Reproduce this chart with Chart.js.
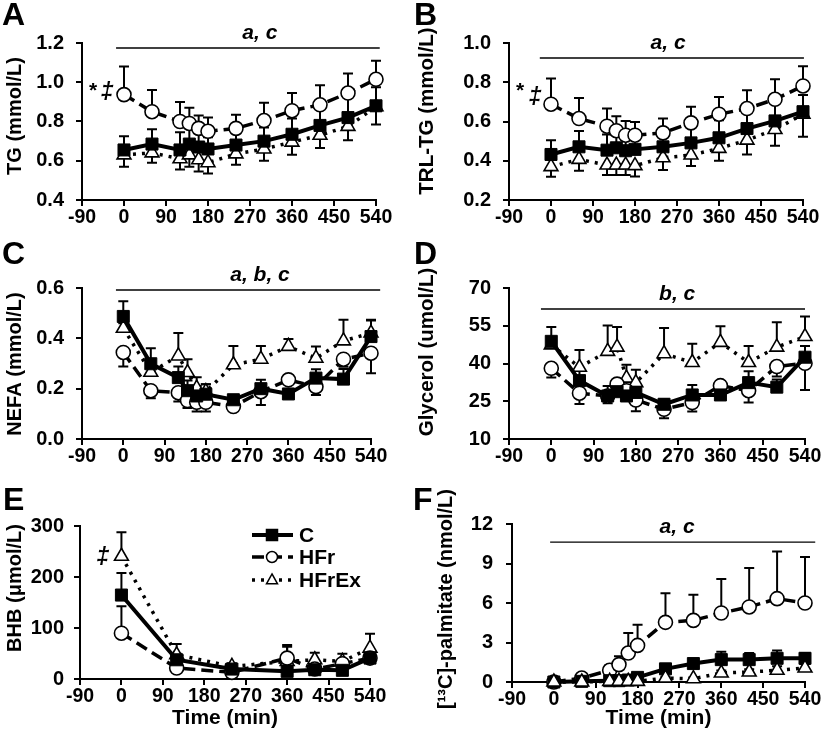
<!DOCTYPE html>
<html>
<head>
<meta charset="utf-8">
<script src="https://cdn.jsdelivr.net/npm/chart.js@4.4.1/dist/chart.umd.min.js"></script>
<style>
    body { margin: 0; background: #fff; }
    #pagina { position: relative; width: 822px; height: 740px; }
    canvas { position: absolute; }
</style>
</head>
<body>
<div id="pagina">
    <canvas id="cA" width="410" height="240" style="left:0;top:0"></canvas>
    <canvas id="cB" width="412" height="240" style="left:410px;top:0"></canvas>
    <canvas id="cC" width="410" height="240" style="left:0;top:240px"></canvas>
    <canvas id="cD" width="412" height="240" style="left:410px;top:240px"></canvas>
    <canvas id="cE" width="410" height="260" style="left:0;top:480px"></canvas>
    <canvas id="cF" width="412" height="260" style="left:410px;top:480px"></canvas>
</div>
<script>
const gruppi = ['C', 'HFr', 'HFrEx'];
const tempi = [0, 60, 120, 140, 160, 180, 240, 300, 360, 420, 480, 540];
const tempiBHB = [0, 120, 240, 360, 420, 480, 540];
const tickTempo = [-90, 0, 90, 180, 270, 360, 450, 540];

// TG
const tickTG = [0.4, 0.6, 0.8, 1.0, 1.2];
const tgC = [0.655, 0.685, 0.655, 0.685, 0.67, 0.66, 0.68, 0.70, 0.735, 0.78, 0.82, 0.88];
const tgCErr = [0.07, 0.075, 0.09, 0.08, 0.07, 0.06, 0.06, 0.07, 0.08, 0.09, 0.1, 0.095];
const tgHFr = [0.937, 0.85, 0.80, 0.79, 0.765, 0.75, 0.765, 0.805, 0.855, 0.885, 0.945, 1.015];
const tgHFrErr = [0.143, 0.11, 0.10, 0.08, 0.065, 0.07, 0.07, 0.09, 0.09, 0.10, 0.10, 0.095];
const tgHFrEx = [0.63, 0.64, 0.61, 0.63, 0.605, 0.59, 0.635, 0.66, 0.695, 0.73, 0.775, 0.875];
const tgHFrExErr = [0.06, 0.05, 0.055, 0.06, 0.06, 0.055, 0.055, 0.06, 0.065, 0.065, 0.07, 0.09];

// TRL-TG
const tickTRL = [0.2, 0.4, 0.6, 0.8, 1.0];
const trlC = [0.432, 0.471, 0.454, 0.466, 0.451, 0.458, 0.471, 0.491, 0.517, 0.564, 0.603, 0.65];
const trlCErr = [0.073, 0.08, 0.08, 0.08, 0.07, 0.07, 0.07, 0.08, 0.09, 0.09, 0.1, 0.085];
const trlHFr = [0.688, 0.615, 0.576, 0.553, 0.53, 0.53, 0.542, 0.593, 0.637, 0.666, 0.713, 0.781];
const trlHFrErr = [0.131, 0.105, 0.09, 0.074, 0.073, 0.068, 0.073, 0.082, 0.088, 0.093, 0.102, 0.1];
const trlHFrEx = [0.37, 0.407, 0.378, 0.378, 0.378, 0.375, 0.415, 0.429, 0.463, 0.505, 0.559, 0.637];
const trlHFrExErr = [0.051, 0.058, 0.051, 0.051, 0.051, 0.055, 0.062, 0.056, 0.063, 0.073, 0.083, 0.115];

// NEFA
const tickNEFA = [0.0, 0.2, 0.4, 0.6];
const nefaC = [0.487, 0.299, 0.244, 0.192, 0.171, 0.178, 0.156, 0.2, 0.179, 0.242, 0.238, 0.407];
const nefaCErr = [0.06, 0.062, 0.044, 0.04, 0.04, 0.04, 0.015, 0.035, 0.02, 0.035, 0.04, 0.067];
const nefaHFr = [0.344, 0.192, 0.184, 0.153, 0.146, 0.146, 0.129, 0.188, 0.235, 0.208, 0.317, 0.341];
const nefaHFrErr = [0.056, 0.03, 0.035, 0.03, 0.037, 0.037, 0.01, 0.053, 0.01, 0.033, 0.03, 0.08];
const nefaHFrEx = [0.44, 0.265, 0.33, 0.264, 0.202, 0.188, 0.295, 0.317, 0.368, 0.321, 0.39, 0.421];
const nefaHFrExErr = [0.02, 0.03, 0.091, 0.053, 0.043, 0.03, 0.075, 0.053, 0.029, 0.047, 0.084, 0.05];

// Glicerolo
const tickGli = [10, 25, 40, 55, 70];
const gliC = [48.8, 33.2, 27.1, 28.8, 27.1, 28.5, 23.8, 27.5, 27.5, 32.4, 30.6, 42.5];
const gliCErr = [5.7, 4, 4, 4, 3, 3, 2, 4, 3, 4.5, 3, 4.5];
const gliHFr = [38.1, 28.2, 27.1, 31.8, 29.2, 25.5, 21.8, 24.5, 31.2, 29.2, 38.8, 40.1];
const gliHFrErr = [3.7, 4.3, 2.9, 2, 3, 4.5, 3.6, 3.6, 2, 4.7, 4, 10.6];
const gliHFrEx = [47.4, 38.5, 44.8, 46.5, 34.2, 32.4, 43.9, 40.4, 48.4, 40.4, 46.5, 50.7];
const gliHFrExErr = [2, 6.9, 10.3, 8, 5.3, 5.1, 10.2, 7.4, 6.4, 6.6, 9.9, 8];

// BHB
const tickBHB = [0, 100, 200, 300];
const bhbC = [164.6, 37.7, 19.5, 15, 18.2, 17, 41];
const bhbCErr = [43, 12, 5, 5, 5, 10, 6];
const bhbHFr = [89.8, 21.5, 13, 41, 19.5, 30, 41];
const bhbHFrErr = [53, 5, 5, 22, 5, 8, 5];
const bhbHFrEx = [240.7, 47.5, 24.7, 34.5, 37.7, 34.5, 60.5];
const bhbHFrExErr = [47, 21, 6, 32, 14, 15, 28];

// [13C]-palmitato
const tickPal = [0, 3, 6, 9, 12];
const palC = [0, 0.05, 0.1, 0.1, 0.15, 0.35, 1.0, 1.4, 1.7, 1.7, 1.8, 1.8];
const palCErr = [0, 0, 0.1, 0.1, 0.1, 0.1, 0.2, 0.3, 0.6, 0.5, 0.6, 0.4];
const palHFr = [0, 0.3, 0.89, 1.32, 2.2, 2.78, 4.53, 4.68, 5.24, 5.7, 6.33, 6.0];
const palHFrErr = [0, 0.05, 0.4, 0.63, 1.52, 1.57, 2.22, 1.95, 2.58, 2.96, 3.59, 3.49];
const palHFrEx = [0, 0, 0.05, 0.05, 0.05, 0.05, 0.3, 0.25, 0.68, 0.76, 0.89, 1.06];
const palHFrExErr = [0, 0, 0, 0, 0, 0, 0.1, 0.1, 0.2, 0.2, 0.3, 0.3];

const FONT = 'Arial, "Liberation Sans", sans-serif';

const stili = [
    { borderWidth: 4, borderDash: [], pointStyle: 'rect', pointRadius: 8.5, pointBackgroundColor: '#000', pointBorderWidth: 1 },
    { borderWidth: 3.5, borderDash: [12, 6], pointStyle: 'circle', pointRadius: 7, pointBackgroundColor: '#fff', pointBorderWidth: 1.6 },
    { borderWidth: 3.5, borderDash: [3, 6], pointStyle: 'triangle', pointRadius: 8, pointBackgroundColor: '#fff', pointBorderWidth: 1.6 }
];

function disegnaMarker(ctx, tipo, x, y, r) {
    ctx.save();
    ctx.setLineDash([]);
    ctx.lineWidth = 1.5;
    ctx.strokeStyle = '#000';
    ctx.beginPath();
    if (tipo === 'rect') {
        ctx.fillStyle = '#000';
        ctx.rect(x - r, y - r, 2 * r, 2 * r);
    } else if (tipo === 'circle') {
        ctx.fillStyle = '#fff';
        ctx.arc(x, y, r, 0, Math.PI * 2);
    } else {
        ctx.fillStyle = '#fff';
        ctx.moveTo(x, y - r * 1.1);
        ctx.lineTo(x + r, y + r * 0.7);
        ctx.lineTo(x - r, y + r * 0.7);
        ctx.closePath();
    }
    ctx.fill();
    ctx.stroke();
    ctx.restore();
}

function creaPannello(cfg) {
    const canvas = document.getElementById(cfg.id);
    const W = canvas.width, H = canvas.height;
    const a = cfg.area;
    const tickY = cfg.tickY;

    const datasets = cfg.medie.map((m, i) => Object.assign({
        label: gruppi[i],
        data: cfg.tempi.map((t, j) => ({ x: t, y: m[j] })),
        borderColor: '#000',
        pointBorderColor: '#000',
        tension: 0,
        fill: false,
        clip: false,
        order: cfg.ordine ? cfg.ordine[i] : 0,
        errori: cfg.errori[i],
        dir: cfg.dir[i]
    }, stili[i]));

    const decorazioni = {
        id: 'decorazioni',
        beforeDatasetsDraw(chart) {
            const ctx = chart.ctx, sx = chart.scales.x, sy = chart.scales.y;
            ctx.save();
            ctx.strokeStyle = '#000';
            ctx.lineWidth = 2;
            chart.data.datasets.forEach(ds => {
                ds.data.forEach((p, j) => {
                    const e = ds.errori[j];
                    if (!e) return;
                    const px = sx.getPixelForValue(p.x);
                    const py = sy.getPixelForValue(p.y);
                    const pe = sy.getPixelForValue(p.y + ds.dir * e);
                    ctx.beginPath();
                    ctx.moveTo(px, py);
                    ctx.lineTo(px, pe);
                    ctx.moveTo(px - 5, pe);
                    ctx.lineTo(px + 5, pe);
                    ctx.stroke();
                });
            });
            ctx.restore();
        },
        afterDraw(chart) {
            const ctx = chart.ctx, sx = chart.scales.x, sy = chart.scales.y;
            ctx.save();
            ctx.fillStyle = '#000';
            ctx.font = 'bold 32px ' + FONT;
            ctx.textAlign = 'left';
            ctx.textBaseline = 'alphabetic';
            ctx.fillText(cfg.lettera, cfg.posLettera[0], cfg.posLettera[1]);

            // titolo asse y
            ctx.save();
            ctx.translate(cfg.titoloY.x, cfg.titoloY.y);
            ctx.rotate(-Math.PI / 2);
            ctx.font = 'bold ' + cfg.titoloY.size + 'px ' + FONT;
            ctx.textAlign = 'center';
            ctx.textBaseline = 'middle';
            ctx.fillText(cfg.titoloY.testo, 0, 0);
            ctx.restore();

            if (cfg.sig) {
                const yl = sy.getPixelForValue(cfg.sig.y);
                ctx.lineWidth = 1.3;
                ctx.strokeStyle = '#000';
                ctx.beginPath();
                ctx.moveTo(sx.getPixelForValue(cfg.sig.x0), yl);
                ctx.lineTo(sx.getPixelForValue(cfg.sig.x1), yl);
                ctx.stroke();
                ctx.font = 'italic bold 21px ' + FONT;
                ctx.textAlign = 'center';
                ctx.textBaseline = 'middle';
                ctx.fillText(cfg.sig.testo, sx.getPixelForValue(cfg.sig.xt), yl - 15);
            }

            (cfg.simboli || []).forEach(s => {
                ctx.font = (s.t === '‡' ? 'italic bold 23px ' : 'bold 21px ') + FONT;
                ctx.textAlign = 'center';
                ctx.textBaseline = 'middle';
                ctx.fillText(s.t, sx.getPixelForValue(s.x), sy.getPixelForValue(s.y));
            });

            if (cfg.legenda) {
                const L = cfg.legenda;
                gruppi.forEach((g, i) => {
                    const y = L.y[i];
                    ctx.save();
                    ctx.lineWidth = stili[i].borderWidth;
                    ctx.setLineDash(stili[i].borderDash);
                    ctx.beginPath();
                    ctx.moveTo(L.x0, y);
                    ctx.lineTo(L.x1, y);
                    ctx.stroke();
                    ctx.restore();
                    disegnaMarker(ctx, stili[i].pointStyle, L.xm, y, 5.5);
                    ctx.font = 'bold 21px ' + FONT;
                    ctx.textAlign = 'left';
                    ctx.textBaseline = 'middle';
                    ctx.fillText(g, L.xt, y + 1);
                });
            }
            ctx.restore();
        }
    };

    return new Chart(canvas, {
        type: 'line',
        data: { datasets: datasets },
        options: {
            responsive: false,
            animation: false,
            devicePixelRatio: 1,
            events: [],
            layout: { padding: { left: 0, top: a.t, right: W - a.r, bottom: 0 } },
            plugins: { legend: { display: false }, tooltip: { enabled: false } },
            scales: {
                x: {
                    type: 'linear',
                    min: tickTempo[0],
                    max: tickTempo[tickTempo.length - 1],
                    afterBuildTicks: s => { s.ticks = tickTempo.map(v => ({ value: v })); },
                    afterFit: s => { s.height = H - a.b; s.paddingLeft = 0; s.paddingRight = 0; },
                    ticks: { autoSkip: false, maxRotation: 0, padding: 0, color: '#000', font: { family: FONT, size: 19.5, weight: 'bold' } },
                    grid: { drawOnChartArea: false, color: '#000', lineWidth: 2, tickLength: 6 },
                    border: { color: '#000', width: 2 },
                    title: {
                        display: !!cfg.titoloX,
                        text: cfg.titoloX || '',
                        color: '#000',
                        font: { family: FONT, size: 21, weight: 'bold' },
                        padding: { top: 0, bottom: 9 }
                    }
                },
                y: {
                    type: 'linear',
                    min: tickY[0],
                    max: tickY[tickY.length - 1],
                    afterBuildTicks: s => { s.ticks = tickY.map(v => ({ value: v })); },
                    afterFit: s => { s.width = a.l; s.paddingTop = 0; s.paddingBottom = 0; },
                    ticks: {
                        padding: cfg.padTickY,
                        color: '#000',
                        font: { family: FONT, size: 20, weight: 'bold' },
                        callback: v => v.toFixed(cfg.decimali)
                    },
                    grid: { drawOnChartArea: false, color: '#000', lineWidth: 2, tickLength: 6 },
                    border: { color: '#000', width: 2 },
                    title: { display: false }
                }
            }
        },
        plugins: [decorazioni]
    });
}

creaPannello({
    id: 'cA', lettera: 'A', posLettera: [2, 25],
    area: { l: 82, t: 43, r: 376, b: 200 },
    tempi: tempi, tickY: tickTG, decimali: 1,
    medie: [tgC, tgHFr, tgHFrEx], errori: [tgCErr, tgHFrErr, tgHFrExErr], dir: [1, 1, -1],
    titoloY: { testo: 'TG (mmol/L)', x: 15, y: 116, size: 20 }, padTickY: 12,
    sig: { x0: -17, x1: 548, y: 1.1745, xt: 291, testo: 'a, c' },
    simboli: [{ t: '*', x: -66, y: 0.955 }, { t: '‡', x: -36, y: 0.945 }]
});

creaPannello({
    id: 'cB', lettera: 'B', posLettera: [4, 25],
    area: { l: 99, t: 43, r: 393, b: 200 },
    tempi: tempi, tickY: tickTRL, decimali: 1,
    medie: [trlC, trlHFr, trlHFrEx], errori: [trlCErr, trlHFrErr, trlHFrExErr], dir: [1, 1, -1],
    titoloY: { testo: 'TRL-TG (mmol/L)', x: 17, y: 111, size: 20.5 }, padTickY: 12,
    sig: { x0: -24, x1: 542, y: 0.9236, xt: 251, testo: 'a, c' },
    simboli: [{ t: '*', x: -66, y: 0.755 }, { t: '‡', x: -34, y: 0.72 }]
});

creaPannello({
    id: 'cC', lettera: 'C', posLettera: [2, 24],
    area: { l: 82, t: 48, r: 371, b: 199 },
    tempi: tempi, tickY: tickNEFA, decimali: 1,
    medie: [nefaC, nefaHFr, nefaHFrEx], errori: [nefaCErr, nefaHFrErr, nefaHFrExErr], dir: [1, -1, 1],
    titoloY: { testo: 'NEFA (mmol/L)', x: 15, y: 124, size: 20 }, padTickY: 12,
    sig: { x0: -16, x1: 560, y: 0.592, xt: 298, testo: 'a, b, c' }
});

creaPannello({
    id: 'cD', lettera: 'D', posLettera: [4, 24],
    area: { l: 99, t: 48, r: 395, b: 199 },
    tempi: tempi, tickY: tickGli, decimali: 0,
    medie: [gliC, gliHFr, gliHFrEx], errori: [gliCErr, gliHFrErr, gliHFrExErr], dir: [1, -1, 1],
    titoloY: { testo: 'Glycerol (umol/L)', x: 17, y: 112, size: 20.5 }, padTickY: 12,
    sig: { x0: -22, x1: 540, y: 61.66, xt: 268, testo: 'b, c' }
});

creaPannello({
    id: 'cE', lettera: 'E', posLettera: [3, 30],
    area: { l: 80, t: 46, r: 370, b: 199 },
    tempi: tempiBHB, tickY: tickBHB, decimali: 0,
    medie: [bhbC, bhbHFr, bhbHFrEx], errori: [bhbCErr, bhbHFrErr, bhbHFrExErr], dir: [1, 1, 1],
    titoloY: { testo: 'BHB (μmol/L)', x: 15, y: 108, size: 20 }, padTickY: 10, titoloX: 'Time (min)',
    simboli: [{ t: '‡', x: -40, y: 237 }],
    legenda: { x0: 252, x1: 293, xm: 272, xt: 299, y: [55, 77, 100] }
});

creaPannello({
    id: 'cF', lettera: 'F', posLettera: [3, 30],
    area: { l: 102, t: 44, r: 395, b: 202 },
    tempi: tempi, tickY: tickPal, decimali: 0,
    medie: [palC, palHFr, palHFrEx], errori: [palCErr, palHFrErr, palHFrExErr], dir: [1, 1, 1],
    ordine: [0, 1, -1],
    titoloY: { testo: '[¹³C]-palmitate (nmol/L)', x: 36, y: 119, size: 20 }, padTickY: 13, titoloX: 'Time (min)',
    sig: { x0: -8, x1: 562, y: 10.63, xt: 265, testo: 'a, c' }
});
</script>
</body>
</html>
